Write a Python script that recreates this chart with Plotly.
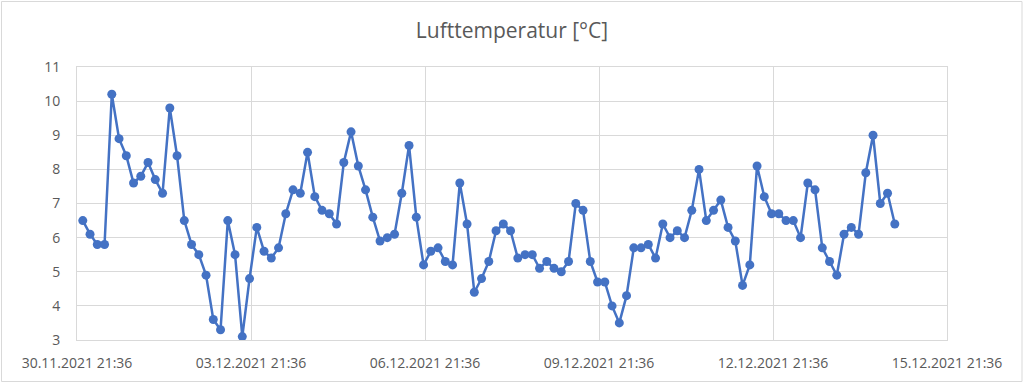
import plotly.graph_objects as go
import pandas as pd

start_time = "2021-12-01 00:00"
step_hours = 3
temperatures = [
    6.5, 6.1, 5.8, 5.8, 10.2, 8.9, 8.4, 7.6, 7.8, 8.2, 7.7, 7.3, 9.8, 8.4, 6.5, 5.8, 5.5, 4.9, 3.6, 3.3,
    6.5, 5.5, 3.1, 4.8, 6.3, 5.6, 5.4, 5.7, 6.7, 7.4, 7.3, 8.5, 7.2, 6.8, 6.7, 6.4, 8.2, 9.1, 8.1, 7.4,
    6.6, 5.9, 6.0, 6.1, 7.3, 8.7, 6.6, 5.2, 5.6, 5.7, 5.3, 5.2, 7.6, 6.4, 4.4, 4.8, 5.3, 6.2, 6.4, 6.2,
    5.4, 5.5, 5.5, 5.1, 5.3, 5.1, 5.0, 5.3, 7.0, 6.8, 5.3, 4.7, 4.7, 4.0, 3.5, 4.3, 5.7, 5.7, 5.8, 5.4,
    6.4, 6.0, 6.2, 6.0, 6.8, 8.0, 6.5, 6.8, 7.1, 6.3, 5.9, 4.6, 5.2, 8.1, 7.2, 6.7, 6.7, 6.5, 6.5, 6.0,
    7.6, 7.4, 5.7, 5.3, 4.9, 6.1, 6.3, 6.1, 7.9, 9.0, 7.0, 7.3, 6.4,
]
times = pd.date_range(start=start_time, periods=len(temperatures), freq=f"{step_hours}h")

title_text = "Lufttemperatur [°C]"
x_range = ["2021-11-30 21:36", "2021-12-15 21:36"]
y_range = [3, 11]

grid = "#D9D9D9"
text_col = "#595959"
blue = "#4472C4"
font = "Open Sans"

fig = go.Figure()
fig.add_trace(go.Scatter(
    x=times, y=temperatures, mode="lines+markers",
    line=dict(color=blue, width=2.5),
    marker=dict(color=blue, size=9),
    hoverinfo="x+y",
))

W, H = 1024, 383
ml, mr, mt, mb = 77, 77, 67, 43
pw, ph = W - ml - mr, H - mt - mb

fig.update_layout(
    width=W, height=H,
    margin=dict(l=ml, r=mr, t=mt, b=mb),
    paper_bgcolor="white", plot_bgcolor="white",
    showlegend=False,
    title=dict(text=title_text, x=0.5, xref="paper", xanchor="center",
               y=1 - 31 / H, yref="container", yanchor="middle",
               font=dict(family=font, size=21, color=text_col)),
    font=dict(family=font, size=14, color=text_col),
    xaxis=dict(
        type="date", range=x_range,
        tick0=x_range[0], dtick=3 * 86400000,
        tickformat="%d.%m.%Y %H:%M",
        showgrid=True, gridcolor=grid, gridwidth=1,
        showline=True, linecolor=grid, linewidth=1, mirror=True,
        ticks="", ticklabelstandoff=10,
        tickfont=dict(family=font, size=14, color=text_col),
        zeroline=False,
    ),
    yaxis=dict(
        range=y_range, dtick=1, tick0=3,
        showgrid=True, gridcolor=grid, gridwidth=1,
        showline=True, linecolor=grid, linewidth=1, mirror=True,
        ticks="", ticklabelstandoff=13,
        tickfont=dict(family=font, size=14, color=text_col),
        zeroline=False,
    ),
    shapes=[dict(
        type="rect", xref="paper", yref="paper",
        x0=(1.5 - ml) / pw, x1=(W - 2 - ml) / pw,
        y0=(H - mb - (H - 1.5)) / ph, y1=(H - mb - 1.5) / ph,
        line=dict(color=grid, width=1), fillcolor="rgba(0,0,0,0)", layer="below",
    )],
)

fig.write_html("out.html", config={"displayModeBar": False},
               post_script="document.body.style.margin='0';")
